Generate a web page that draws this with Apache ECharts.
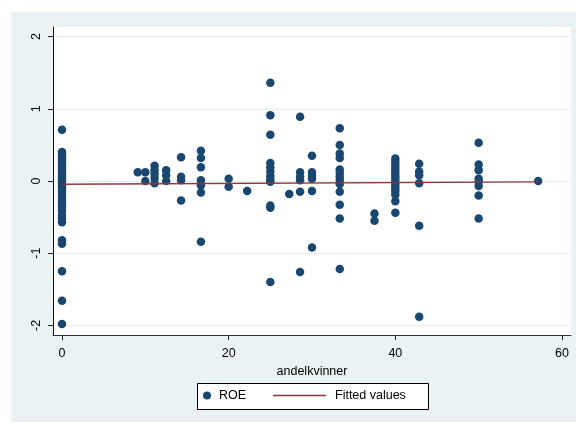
<!DOCTYPE html>
<html>
<head>
<meta charset="utf-8">
<script src="https://cdn.jsdelivr.net/npm/echarts@6/dist/echarts.min.js"></script>
<style>
html,body{margin:0;padding:0;background:#fff;}
#c{width:576px;height:423px;}
</style>
</head>
<body>
<div id="c"></div>
<script>
// ---- data ----
const colX = [0, 9.09, 10, 11.11, 12.5, 14.29, 16.67, 20, 22.22, 25, 27.27, 28.57, 30, 33.33, 37.5, 40, 42.86, 50, 57.14];
const colY = [
  [0.71, 0.40, 0.37, 0.34, 0.30, 0.27, 0.23, 0.19, 0.15, 0.11, 0.08, 0.05, 0.02, -0.01, -0.04, -0.07, -0.10, -0.14, -0.18, -0.22, -0.27, -0.31, -0.36, -0.41, -0.47, -0.52, -0.57, -0.82, -0.87, -1.25, -1.66, -1.98],
  [0.12],
  [0.12, 0.0],
  [0.21, 0.15, 0.10, 0.04, -0.03],
  [0.15, 0.08, 0.0],
  [0.33, 0.06, 0.01, -0.27],
  [0.42, 0.32, 0.19, 0.01, -0.06, -0.16, -0.84],
  [0.03, -0.08],
  [-0.14],
  [1.36, 0.91, 0.64, 0.25, 0.19, 0.13, 0.07, 0.02, -0.01, -0.34, -0.37, -1.40],
  [-0.18],
  [0.89, 0.12, 0.06, 0.01, -0.15, -1.26],
  [0.35, 0.12, 0.07, 0.03, -0.14, -0.92],
  [0.73, 0.50, 0.38, 0.32, 0.16, 0.11, 0.06, 0.01, -0.04, -0.15, -0.33, -0.52, -1.22],
  [-0.45, -0.55],
  [0.31, 0.27, 0.22, 0.18, 0.14, 0.10, 0.06, 0.02, -0.02, -0.06, -0.10, -0.14, -0.19, -0.28, -0.44],
  [0.24, 0.13, 0.08, -0.03, -0.62, -1.88],
  [0.53, 0.23, 0.15, 0.03, -0.01, -0.07, -0.20, -0.52],
  [0.0]
];
const fitX = [0, 57.14];
const fitY = [-0.045, -0.012];
const xTicks = [0, 20, 40, 60];
const yTicks = [-2, -1, 0, 1, 2];
const xName = 'andelkvinner';
const seriesNames = ['ROE', 'Fitted values'];

// ---- build ----
const roe = [];
colX.forEach((x, i) => colY[i].forEach(y => roe.push([x, y])));
const fit = fitX.map((x, i) => [x, fitY[i]]);

const FONT = 'Liberation Sans, Arial, sans-serif';
const chart = echarts.init(document.getElementById('c'), null, {renderer: 'canvas'});
chart.setOption({
  backgroundColor: '#ffffff',
  animation: false,
  graphic: [
    {type: 'rect', z: -10, shape: {x: 11, y: 12, width: 565, height: 410}, style: {fill: '#EAF2F3'}, silent: true},
    {type: 'rect', z: -5, shape: {x: 197.5, y: 383.5, width: 231, height: 26}, style: {fill: '#ffffff', stroke: '#000', lineWidth: 1}, silent: true}
  ],
  grid: {left: 53, top: 27, right: 5, bottom: 88, show: true, backgroundColor: '#ffffff', borderWidth: 0, containLabel: false},
  xAxis: {
    type: 'value', min: -1.08, max: 61.08,
    name: xName, nameLocation: 'middle', nameGap: 27,
    nameTextStyle: {fontFamily: FONT, fontSize: 12.5, color: '#000'},
    axisLine: {show: true, onZero: false, lineStyle: {color: '#333', width: 1}},
    axisTick: {show: true, length: 5, customValues: xTicks, lineStyle: {color: '#222'}},
    axisLabel: {customValues: xTicks, margin: 12, fontFamily: FONT, fontSize: 12.5, color: '#000'},
    splitLine: {show: false}
  },
  yAxis: {
    type: 'value', min: -2.133, max: 2.133,
    axisLine: {show: true, onZero: false, lineStyle: {color: '#111', width: 1}},
    axisTick: {show: true, length: 5, customValues: yTicks, lineStyle: {color: '#222'}},
    axisLabel: {customValues: yTicks, rotate: 90, margin: 10, fontFamily: FONT, fontSize: 12.5, color: '#000'},
    splitLine: {show: true, lineStyle: {color: '#E6EEF0', width: 1}}
  },
  legend: [
    {
      data: [{name: seriesNames[0], icon: 'circle'}],
      left: 203, top: 389, itemWidth: 8, itemHeight: 8, padding: 0,
      textStyle: {fontFamily: FONT, fontSize: 12.5, color: '#000', padding: [0, 0, 0, 3]}
    },
    {
      data: [{name: seriesNames[1], icon: 'rect'}],
      left: 273, top: 389, itemWidth: 53, itemHeight: 1.3, padding: 0,
      itemStyle: {color: '#90353B', borderWidth: 0},
      textStyle: {fontFamily: FONT, fontSize: 12.5, color: '#000', padding: [0, 0, 0, 4]}
    }
  ],
  series: [
    {
      name: seriesNames[0], type: 'scatter', data: roe, symbol: 'circle', symbolSize: 8.5, z: 3,
      itemStyle: {color: '#1A476F', opacity: 1}
    },
    {
      name: seriesNames[1], type: 'line', data: fit, symbol: 'none', showSymbol: false, z: 4,
      lineStyle: {color: '#90353B', width: 1.3}, itemStyle: {color: '#90353B'}
    }
  ]
});
</script>
</body>
</html>
